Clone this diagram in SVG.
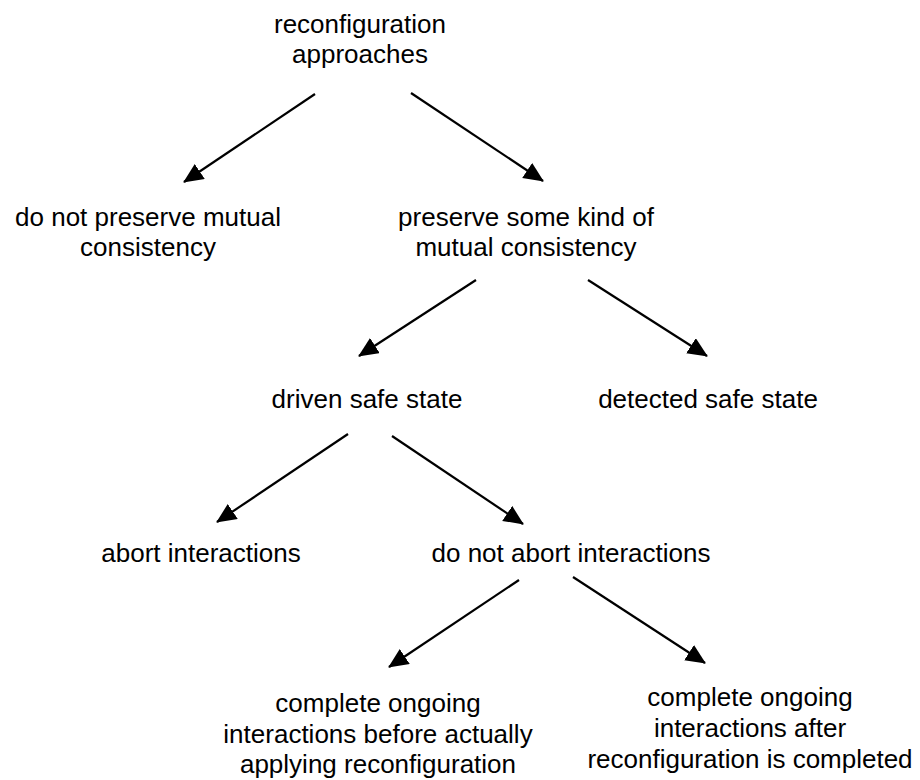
<svg xmlns="http://www.w3.org/2000/svg" width="920" height="780" viewBox="0 0 920 780">
<style>
text{font-family:"Liberation Sans",Arial,sans-serif;font-size:26px;fill:#000;text-anchor:middle}
.c line{stroke:#000;stroke-width:2.2;marker-end:url(#ah)}
</style>
<defs>
<marker id="ah" markerUnits="userSpaceOnUse" markerWidth="22" markerHeight="20" refX="19" refY="9" orient="auto">
<path d="M0,0 L20,9 L0,18 z" fill="#000"/>
</marker>
</defs>
<rect width="920" height="780" fill="#fff"/>
<g id="n1"><text x="360" y="33">reconfiguration</text><text x="360" y="63">approaches</text></g>
<g id="n2"><text x="148" y="226">do not preserve mutual</text><text x="148" y="256">consistency</text></g>
<g id="n3"><text x="526" y="226">preserve some kind of</text><text x="526" y="256">mutual consistency</text></g>
<g id="n4"><text x="367" y="408">driven safe state</text></g>
<g id="n5"><text x="708" y="408">detected safe state</text></g>
<g id="n6"><text x="201" y="562">abort interactions</text></g>
<g id="n7"><text x="571" y="562">do not abort interactions</text></g>
<g id="n8"><text x="378" y="712">complete ongoing</text><text x="378" y="743">interactions before actually</text><text x="378" y="773">applying reconfiguration</text></g>
<g id="n9"><text x="750" y="706">complete ongoing</text><text x="750" y="737">interactions after</text><text x="750" y="768">reconfiguration is completed</text></g>
<g id="connectors" class="c">
<line x1="315" y1="94" x2="184" y2="182"/>
<line x1="411" y1="93" x2="543" y2="181"/>
<line x1="476" y1="280" x2="359" y2="356"/>
<line x1="588" y1="280" x2="707" y2="356"/>
<line x1="348" y1="434" x2="217" y2="522"/>
<line x1="392" y1="436" x2="523" y2="524"/>
<line x1="519" y1="580" x2="389" y2="667"/>
<line x1="573" y1="577" x2="705" y2="663"/>
</g>
</svg>
